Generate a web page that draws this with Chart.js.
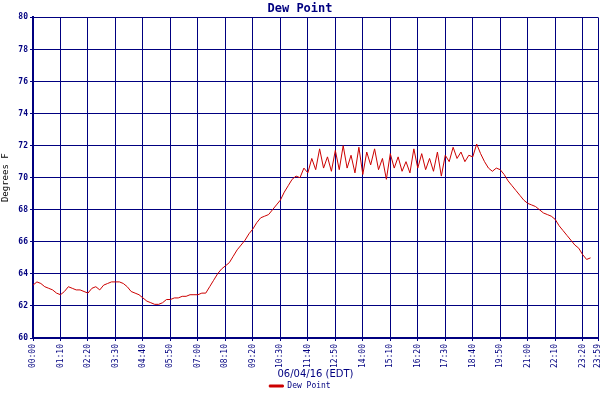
<!DOCTYPE html>
<html>
<head>
<script src="https://cdn.jsdelivr.net/npm/chart.js@4"></script>
<style>body{margin:0;background:#fff}#wrap{width:600px;height:400px}</style>
</head>
<body>
<div id="wrap"><canvas id="dewChart"></canvas></div>
<script>
// dew point every 10 minutes from 00:00, last point at 23:59
var dewValues = [
 63.3,63.5,63.4,63.2,63.1,63.0,62.8,62.7,62.9,63.2,63.1,63.0,
 63.0,62.9,62.8,63.1,63.2,63.0,63.3,63.4,63.5,63.5,63.5,63.4,
 63.2,62.9,62.8,62.7,62.5,62.3,62.2,62.1,62.1,62.2,62.4,62.4,
 62.5,62.5,62.6,62.6,62.7,62.7,62.7,62.8,62.8,63.2,63.6,64.0,
 64.3,64.5,64.7,65.1,65.5,65.8,66.1,66.5,66.8,67.2,67.5,67.6,
 67.7,68.0,68.3,68.6,69.1,69.5,69.9,70.1,70.0,70.6,70.3,71.2,
 70.5,71.8,70.6,71.3,70.4,71.7,70.5,72.0,70.6,71.4,70.3,71.9,
 70.2,71.6,70.8,71.8,70.5,71.2,69.9,71.5,70.6,71.3,70.4,71.0,
 70.3,71.8,70.6,71.5,70.5,71.2,70.4,71.6,70.1,71.4,71.0,71.9,
 71.2,71.6,71.0,71.4,71.3,72.1,71.5,71.0,70.6,70.4,70.6,70.5,
 70.2,69.8,69.5,69.2,68.9,68.6,68.4,68.3,68.2,68.0,67.8,67.7,
 67.6,67.4,67.0,66.7,66.4,66.1,65.8,65.6,65.2,64.9,65.0
]
var stepMinutes = 10
var tickMinutes = [0,70,140,210,280,350,420,490,560,630,700,770,840,910,980,1050,1120,1190,1260,1330,1400,1439]
var yTicks = [60,62,64,66,68,70,72,74,76,78,80]

var navy = "#000080"
var points = dewValues.map(function (v, i) {
   return { x: Math.min(i * stepMinutes, 1439), y: v }
})

function hhmm(m) {
   var h = Math.floor(m / 60), mm = m % 60
   return (h < 10 ? "0" : "") + h + ":" + (mm < 10 ? "0" : "") + mm
}

var ctx = document.getElementById("dewChart").getContext("2d")
var chart = new Chart(ctx, {
   type: "line",
   data: {
      datasets: [
         {
            label: "Dew Point",
            data: points,
            borderColor: "#cc0000",
            backgroundColor: "#cc0000",
            borderWidth: 1,
            pointRadius: 0,
            tension: 0,
            fill: false,
         },
      ],
   },
   options: {
      animation: false,
      responsive: true,
      maintainAspectRatio: false,
      layout: { padding: { top: 2, right: 0, left: 0, bottom: 0 } },
      plugins: {
         title: {
            display: true,
            text: "Dew Point",
            color: navy,
            font: { family: "DejaVu Sans Mono", size: 12 },
            padding: { top: 0, bottom: 1 },
         },
         legend: {
            position: "bottom",
            labels: {
               color: navy,
               font: { family: "DejaVu Sans Mono", size: 8 },
               boxWidth: 14,
               boxHeight: 2,
               padding: 2,
            },
         },
         tooltip: { enabled: false },
      },
      scales: {
         x: {
            type: "linear",
            min: 0,
            max: 1439,
            afterBuildTicks: function (s) {
               s.ticks = tickMinutes.map(function (v) { return { value: v } })
            },
            afterFit: function (s) { s.height = 42; s.paddingRight = 2; s.paddingLeft = 0 },
            grid: { color: navy, lineWidth: 1, tickLength: 3 },
            border: { color: navy, width: 2 },
            ticks: {
               color: navy,
               autoSkip: false,
               maxRotation: 90,
               minRotation: 90,
               font: { family: "DejaVu Sans Mono", size: 8 },
               callback: function (v) { return hhmm(v) },
            },
            title: {
               display: true,
               text: "06/04/16 (EDT)",
               color: navy,
               font: { family: "DejaVu Sans", size: 10 },
               padding: { top: 2, bottom: 0 },
            },
         },
         y: {
            min: 60,
            max: 80,
            afterBuildTicks: function (s) {
               s.ticks = yTicks.map(function (v) { return { value: v } })
            },
            afterFit: function (s) { s.width = 33 },
            grid: { color: navy, lineWidth: 1, tickLength: 3 },
            border: { color: navy, width: 2 },
            ticks: {
               color: navy,
               font: { family: "DejaVu Sans Mono", size: 8, weight: "bold" },
               padding: 2,
            },
            title: {
               display: true,
               text: "Degrees F",
               color: "#000",
               font: { family: "DejaVu Sans Mono", size: 9 },
               padding: 0,
            },
         },
      },
   },
})
</script>
</body>
</html>
